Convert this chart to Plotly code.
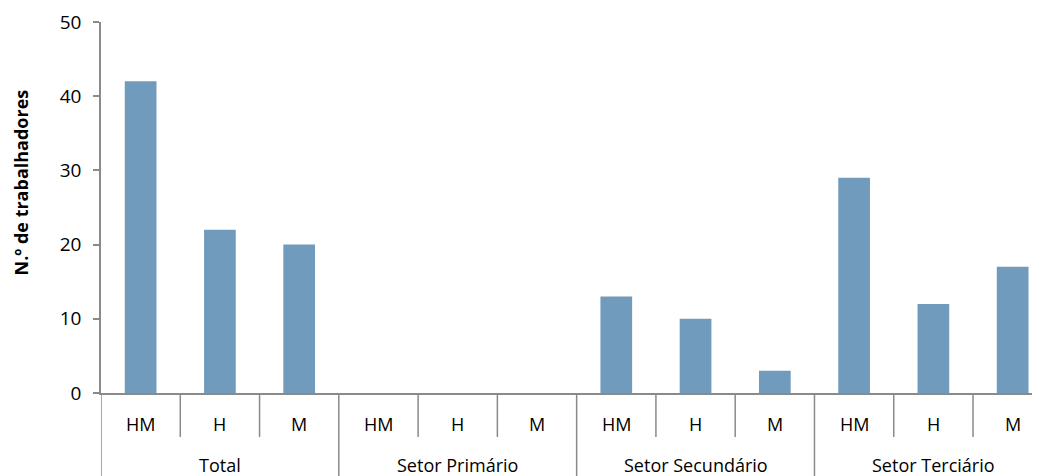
import plotly.graph_objects as go

sectors = ["Total", "Setor Primário", "Setor Secundário", "Setor Terciário"]
groups = ["HM", "H", "M"]
values = [42, 22, 20, 0, 0, 0, 13, 10, 3, 29, 12, 17]
y_title = "N.º de trabalhadores"
y_ticks = [0, 10, 20, 30, 40, 50]

FONT = "Open Sans, Lato, sans-serif"
GRAY = "#8A8A8A"

# page body has an 8px margin: figure placed at (8, 8)
M_L, M_T, M_B = 93, 14, 83
FIG_W, FIG_H = 1032, 468
PLOT_H = FIG_H - M_T - M_B

n_g = len(groups)
positions = list(range(len(sectors) * n_g))
inner = [g for _ in sectors for g in groups]

fig = go.Figure(go.Bar(
    x=positions, y=values,
    marker=dict(color="#709BBC", line=dict(width=0)),
    width=0.4,
    hovertext=[f"{s} {g}" for s in sectors for g in groups],
))

shapes = []
annotations = []
for i, lab in enumerate(inner):
    annotations.append(dict(x=i, y=0, xref="x", yref="paper", text=lab,
                            showarrow=False, yanchor="middle", yshift=-31,
                            font=dict(family=FONT, size=18, color="black")))
    if i % n_g != 0:
        shapes.append(dict(type="line", xref="x", yref="paper",
                           x0=i - 0.5, x1=i - 0.5, y0=0, y1=-44 / PLOT_H,
                           line=dict(color=GRAY, width=1.5)))
for j, s in enumerate(sectors):
    annotations.append(dict(x=j * n_g + (n_g - 1) / 2, y=0, xref="x", yref="paper",
                            text=s, showarrow=False, yanchor="middle", yshift=-72,
                            font=dict(family=FONT, size=18, color="black")))
    shapes.append(dict(type="line", xref="x", yref="paper",
                       x0=j * n_g - 0.5, x1=j * n_g - 0.5, y0=0, y1=-M_B / PLOT_H,
                       line=dict(color=GRAY, width=1.5)))
shapes.append(dict(type="line", xref="x", yref="paper",
                   x0=len(positions) - 0.5, x1=len(positions) - 0.5, y0=0, y1=-M_B / PLOT_H,
                   line=dict(color=GRAY, width=1.5)))

annotations.append(dict(x=0, y=(PLOT_H - (182.5 - 8 - M_T)) / PLOT_H, xref="paper", yref="paper",
                        xshift=-81, text=f"<b>{y_title}</b>", textangle=-90,
                        showarrow=False, xanchor="center", yanchor="middle",
                        font=dict(family=FONT, size=18, color="black")))

fig.update_layout(
    width=FIG_W, height=FIG_H,
    margin=dict(l=M_L, r=0, t=M_T, b=M_B),
    plot_bgcolor="white", paper_bgcolor="white",
    font=dict(family=FONT, size=18, color="#000000"),
    showlegend=False,
    shapes=shapes,
    annotations=annotations,
)
fig.update_xaxes(
    range=[-0.5, 11.345],
    showline=True, linecolor=GRAY, linewidth=1.5,
    ticks="", showticklabels=False,
    showgrid=False, zeroline=False, automargin=False,
)
fig.update_yaxes(
    range=[0, 50], tickvals=y_ticks,
    showline=True, linecolor=GRAY, linewidth=1.5,
    ticks="outside", tickcolor=GRAY, ticklen=6, tickwidth=1.5,
    ticklabelstandoff=8,
    showgrid=False, zeroline=False, automargin=False,
    tickfont=dict(size=19),
)

fig.write_html("out.html")
